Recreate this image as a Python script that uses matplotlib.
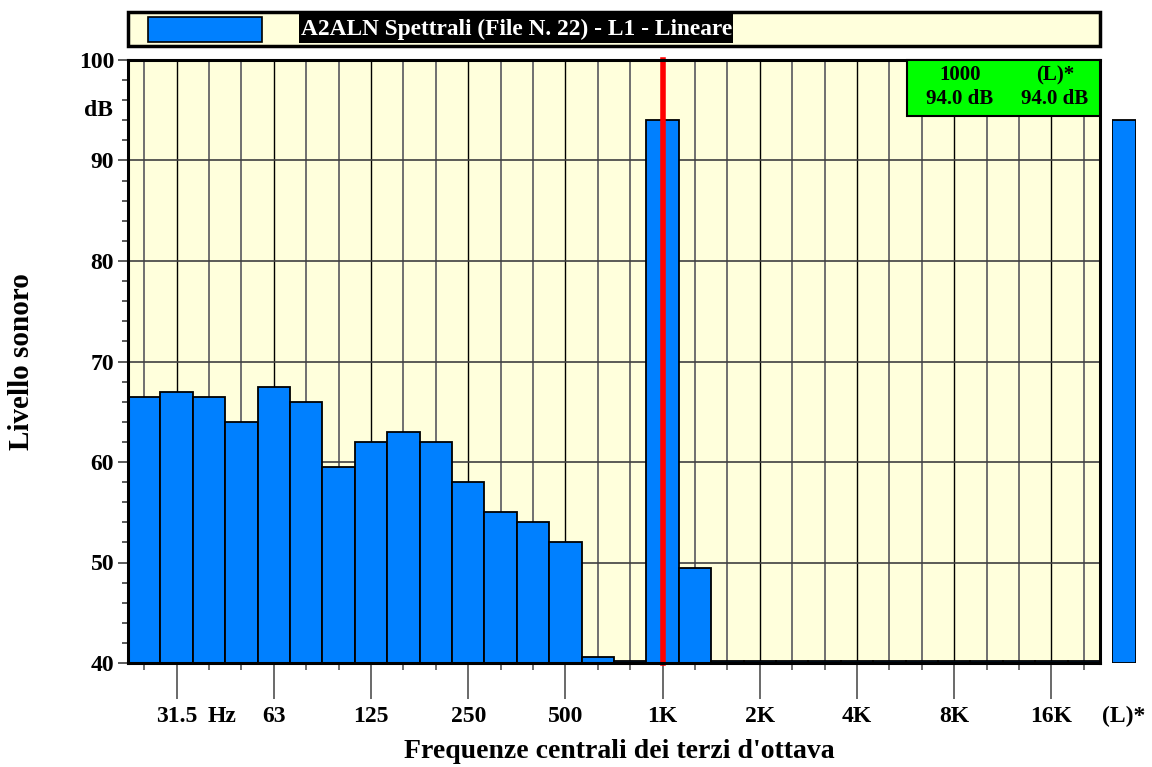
import matplotlib.pyplot as plt
import numpy as np
from matplotlib.patches import Rectangle

plt.rcParams['font.family'] = ['Liberation Serif', 'DejaVu Serif']
plt.rcParams['font.weight'] = 'bold'

# third-octave bands 25 Hz .. 20 kHz
bands = ['25', '31.5', '40', '50', '63', '80', '100', '125', '160', '200',
         '250', '315', '400', '500', '630', '800', '1K', '1.25K', '1.6K', '2K',
         '2.5K', '3.15K', '4K', '5K', '6.3K', '8K', '10K', '12.5K', '16K', '20K']
levels = [66.5, 67.0, 66.5, 64.0, 67.5, 66.0, 59.5, 62.0, 63.0, 62.0,
          58.0, 55.0, 54.0, 52.0, 40.6, 40.2, 94.0, 49.5, 40.2, 40.2,
          40.2, 40.2, 40.2, 40.2, 40.2, 40.2, 40.2, 40.2, 40.2, 40.2]
total_label = '(L)*'
total_level = 94.0
cursor_band = '1K'
cursor_freq = '1000'
octave_labels = ['31.5', '63', '125', '250', '500', '1K', '2K', '4K', '8K', '16K']

W, H = 1152, 767
fig = plt.figure(figsize=(W / 100, H / 100), dpi=100)

def fx(px):
    return px / W

def fy(py):
    return 1 - py / H

left, right, top, bottom = 128, 1100, 60, 663
ax = fig.add_axes([fx(left), fy(bottom), fx(right - left), fy(top) - fy(bottom)])
ax.set_facecolor('#FFFFDC')

x = np.arange(len(bands))
ymin = 40
# grid
for i, b in enumerate(bands):
    if b in octave_labels:
        ax.axvline(i, color='black', lw=1.0, zorder=1)
    else:
        ax.axvline(i, color='#707070', lw=1.4, zorder=1)
for yv in range(50, 100, 10):
    ax.axhline(yv, color='#404040', lw=1.2, zorder=1)

ax.bar(x, np.array(levels) - ymin, bottom=ymin, width=1.0, color='#0080FF',
       edgecolor='black', linewidth=1.3, zorder=2)

ci = bands.index(cursor_band)
ax.axvline(ci, color='#FF0000', lw=4, zorder=3, clip_on=False)

ax.set_xlim(-0.5, len(bands) - 0.5)
ax.set_ylim(40, 100)

ax.set_yticks(range(40, 101, 10))
ax.set_yticks(range(40, 101, 2), minor=True)
ax.tick_params(axis='y', which='major', length=7, width=1.2, color='#404040',
               labelsize=17, pad=3)
ax.tick_params(axis='y', which='minor', length=4.3, width=1.2, color='#404040')

ax.set_xticks(x, minor=True)
ax.set_xticks([bands.index(b) for b in octave_labels])
ax.set_xticklabels(octave_labels)
ax.tick_params(axis='x', which='major', length=26, width=1.2, color='#505050',
               labelsize=17, pad=5)
ax.tick_params(axis='x', which='minor', length=5, width=1.4, color='#707070')
ax.tick_params(axis='x', which='minor', labelbottom=False)

for s in ax.spines.values():
    s.set_linewidth(2.2)
    s.set_color('black')
    s.set_zorder(5)

fig.text(fx(22), fy(362), 'Livello sonoro', fontsize=21, fontweight='bold',
         rotation=90, ha='center', va='center')
fig.text(fx(619), fy(751), "Frequenze centrali dei terzi d'ottava", fontsize=20,
         fontweight='bold', ha='center', va='center')

fig.text(fx(98), fy(111), 'dB', fontsize=17, fontweight='bold',
         ha='center', va='center')
fig.text(fx(222), fy(716), 'Hz', fontsize=17, fontweight='bold',
         ha='center', va='center')

# total bar
ax2 = fig.add_axes([fx(1112), fy(bottom), fx(24), fy(top) - fy(bottom)])
ax2.bar([0], [total_level - ymin], bottom=ymin, width=1.0, color='#0080FF',
        edgecolor='black', linewidth=1.3)
ax2.set_xlim(-0.5, 0.5)
ax2.set_ylim(40, 100)
ax2.axis('off')
fig.text(fx(1124), fy(716), total_label, fontsize=17, fontweight='bold',
         ha='center', va='center')

# green readout box
ax.add_patch(Rectangle((fx(907), fy(116)), fx(1100 - 907), fy(60) - fy(116),
                       transform=fig.transFigure, facecolor='#00FF00',
                       edgecolor='black', lw=1.5, zorder=6, clip_on=False))
fig.text(fx(960), fy(75), cursor_freq, fontsize=15, fontweight='bold',
         ha='center', va='center', zorder=7)
fig.text(fx(1055), fy(75), total_label, fontsize=15, fontweight='bold',
         ha='center', va='center', zorder=7)
fig.text(fx(960), fy(99), f'{levels[ci]:.1f} dB', fontsize=15, fontweight='bold',
         ha='center', va='center', zorder=7)
fig.text(fx(1055), fy(99), f'{total_level:.1f} dB', fontsize=15, fontweight='bold',
         ha='center', va='center', zorder=7)

# legend / title bar
fig.patches.append(Rectangle((fx(128), fy(46)), fx(1100 - 128), fy(12) - fy(46),
                             transform=fig.transFigure, facecolor='#FFFFDC',
                             edgecolor='black', lw=2.5))
fig.patches.append(Rectangle((fx(148), fy(42)), fx(262 - 148), fy(17) - fy(42),
                             transform=fig.transFigure, facecolor='#0080FF',
                             edgecolor='black', lw=1.2))
fig.patches.append(Rectangle((fx(299), fy(43)), fx(733 - 299), fy(13) - fy(43),
                             transform=fig.transFigure, facecolor='black',
                             edgecolor='none'))
fig.text(fx(301), fy(29), 'A2ALN Spettrali (File N. 22) - L1 - Lineare',
         color='white', fontsize=16.8, fontweight='bold', ha='left', va='center')

fig.savefig('out.png', dpi=100)
